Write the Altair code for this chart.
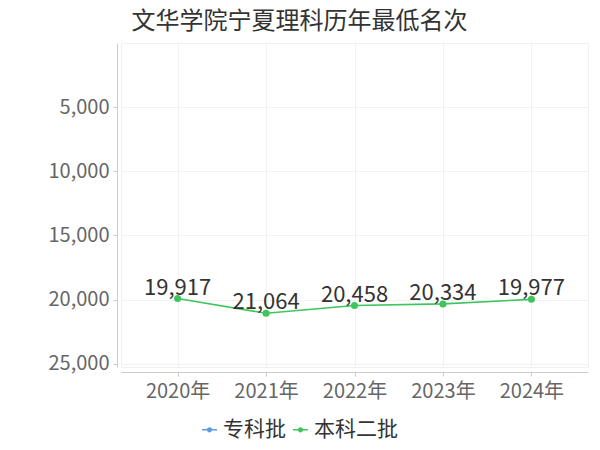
import altair as alt
import pandas as pd

years = ["2020年", "2021年", "2022年", "2023年", "2024年"]
ranks = [19917, 21064, 20458, 20334, 19977]
series_names = ["专科批", "本科二批"]
series_colors = ["#5a9ee0", "#3ec55b"]
y_ticks = [5000, 10000, 15000, 20000, 25000]
title_text = "文华学院宁夏理科历年最低名次"

df = pd.DataFrame({"year": years, "rank": ranks, "batch": ["本科二批"] * len(years)})

FONT = "Noto Sans CJK SC"

x_enc = alt.X(
    "year:N",
    sort=years,
    title=None,
    scale=alt.Scale(type="point", padding=0.64),
    axis=alt.Axis(
        labelAngle=0, labelFontSize=20, labelColor="#666666", labelFont=FONT,
        domainColor="#cccccc", tickColor="#cccccc", tickSize=4, labelPadding=5,
        offset=5, gridColor="#f2f2f2", grid=True,
    ),
)
y_enc = alt.Y(
    "rank:Q",
    title=None,
    scale=alt.Scale(domain=[0, 25250], reverse=True, nice=False, zero=False),
    axis=alt.Axis(
        values=y_ticks, format=",.0f", labelFontSize=20, labelColor="#666666", labelFont=FONT,
        domainColor="#cccccc", tickColor="#cccccc", tickSize=4, labelPadding=4,
        offset=4, gridColor="#f2f2f2", grid=True,
    ),
)
color_enc = alt.Color(
    "batch:N",
    scale=alt.Scale(domain=series_names, range=series_colors),
    title=None,
    legend=alt.Legend(
        orient="none", legendX=78, legendY=376, direction="horizontal",
        labelFontSize=21, labelColor="#333333", labelFont=FONT,
        symbolType="M-1,-0.1H1V0.1H-1Z M-0.35,0A0.35,0.35,0,1,1,0.35,0A0.35,0.35,0,1,1,-0.35,0Z",
        symbolSize=225, symbolStrokeWidth=0, labelOffset=3, columnPadding=4,
    ),
)

base = alt.Chart(df).encode(x=x_enc, y=y_enc)

line = base.mark_line(strokeWidth=1.6).encode(color=color_enc)
points = base.mark_point(filled=True, size=50, opacity=1).encode(color=color_enc)
labels = base.mark_text(
    fontSize=22, color="#333333", font=FONT, baseline="alphabetic", dy=-4
).encode(text=alt.Text("rank:Q", format=","))

chart = (
    alt.layer(line, points, labels)
    .properties(
        width=467,
        height=324,
        autosize=alt.AutoSizeParams(type="none"),
        padding={"left": 113, "top": 35, "right": 4, "bottom": 75},
        title=alt.Title(
            title_text, fontSize=24, font=FONT, color="#333333", fontWeight="normal",
            anchor="middle", frame="group", dx=-55, offset=9,
        ),
    )
    .configure_view(stroke="#f0f0f0")
)

chart.save("out.html", embed_options={"renderer": "svg", "actions": False})
